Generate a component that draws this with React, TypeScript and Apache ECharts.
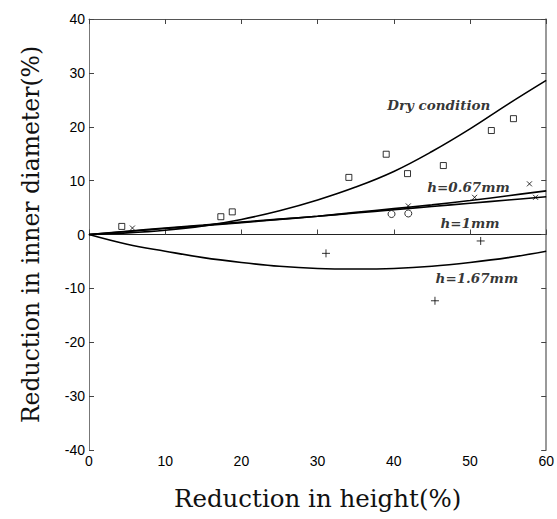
import React, { useEffect, useRef } from "react";
import * as echarts from "echarts";

// Fitted curves (x: reduction in height %, y: reduction in inner diameter %)
const curveX = [0, 5, 10, 15, 20, 25, 30, 35, 40, 45, 50, 55, 60];
const dryCurve = [0, 0.3, 0.8, 1.6, 2.8, 4.4, 6.4, 8.8, 11.7, 15.4, 19.6, 24.2, 28.6];
const h067Curve = [0, 0.55, 1.1, 1.65, 2.2, 2.8, 3.4, 4.1, 4.8, 5.5, 6.3, 7.2, 8.1];
const h1Curve = [0, 0.6, 1.2, 1.75, 2.3, 2.85, 3.4, 4.0, 4.6, 5.2, 5.8, 6.4, 7.0];
const h167Curve = [0, -1.8, -3.1, -4.3, -5.2, -5.9, -6.3, -6.4, -6.3, -5.9, -5.2, -4.3, -3.1];

// Experimental points
const dryPoints: [number, number][] = [
  [4.3, 1.5], [17.3, 3.3], [18.8, 4.2], [34.1, 10.6], [39.0, 14.9],
  [41.8, 11.3], [46.5, 12.8], [52.8, 19.3], [55.7, 21.5],
];
const h067Points: [number, number][] = [
  [5.7, 1.2], [41.9, 5.3], [50.6, 6.9], [57.8, 9.4], [58.6, 6.9],
];
const h1Points: [number, number][] = [
  [39.7, 3.8], [41.9, 3.9],
];
const h167Points: [number, number][] = [
  [31.1, -3.5], [51.4, -1.2], [45.4, -12.3],
];

const curveLabels = ["Dry condition", "h=0.67mm", "h=1mm", "h=1.67mm"];
const labelPos: [number, number][] = [
  [45.9, 24.1], [49.8, 8.8], [50.0, 2.2], [50.9, -8.0],
];

const xTitle = "Reduction in height(%)";
const yTitle = "Reduction in inner diameter(%)";

const crossPath = "path://M0,0L10,10M10,0L0,10";
const plusPath = "path://M5,0L5,10M0,5L10,5";

const SERIF = "'DejaVu Serif', serif";
const SANS = "'Liberation Sans', Arial, sans-serif";
const LABEL_FONT = "'DejaVu Serif', serif";

export default function App() {
  const ref = useRef<HTMLDivElement>(null);
  useEffect(() => {
    if (!ref.current) return;
    const chart = echarts.init(ref.current, undefined, { renderer: "svg" });
    const pair = (ys: number[]) => curveX.map((x, i) => [x, ys[i]]);
    const lineSeries = (name: string, ys: number[]) => ({
      name,
      type: "line",
      data: pair(ys),
      smooth: 0.4,
      showSymbol: false,
      lineStyle: { color: "#000", width: 1.6 },
      z: 2,
    });
    const scatterSeries = (name: string, data: [number, number][], symbol: string, size: number) => ({
      name,
      type: "scatter",
      data,
      symbol,
      symbolSize: size,
      itemStyle: { color: "#fff", borderColor: "#000", borderWidth: 1 },
      z: 3,
    });
    const axisCommon = {
      min: 0,
      max: 60,
      interval: 10,
    };
    chart.setOption({
      animation: false,
      backgroundColor: "#fff",
      grid: { left: 89, top: 19, right: 9, bottom: 69 },
      xAxis: [
        {
          type: "value",
          ...axisCommon,
          position: "bottom",
          name: xTitle,
          nameLocation: "middle",
          nameGap: 36,
          nameTextStyle: { fontFamily: SERIF, fontSize: 24.5, color: "#111" },
          axisLine: { show: true, lineStyle: { color: "#222", width: 1 } },
          axisTick: { inside: true, length: 5, lineStyle: { color: "#444" } },
          axisLabel: { fontFamily: SANS, fontSize: 14, color: "#000", margin: 4 },
          splitLine: { show: false },
        },
        {
          type: "value",
          ...axisCommon,
          position: "top",
          axisLine: { show: true, onZero: false, lineStyle: { color: "#555", width: 1 } },
          axisTick: { inside: true, length: 5, lineStyle: { color: "#444" } },
          axisLabel: { show: false },
          splitLine: { show: false },
        },
      ],
      yAxis: [
        {
          type: "value",
          min: -40,
          max: 40,
          interval: 10,
          position: "left",
          name: yTitle,
          nameLocation: "middle",
          nameGap: 46,
          nameTextStyle: { fontFamily: SERIF, fontSize: 23.5, color: "#111" },
          axisLine: { show: true, onZero: false, lineStyle: { color: "#777", width: 1 } },
          axisTick: { inside: true, length: 5, lineStyle: { color: "#444" } },
          axisLabel: { fontFamily: SANS, fontSize: 14, color: "#000", margin: 4 },
          splitLine: { show: false },
        },
        {
          type: "value",
          min: -40,
          max: 40,
          interval: 10,
          position: "right",
          axisLine: { show: true, onZero: false, lineStyle: { color: "#777", width: 1.5 } },
          axisTick: { inside: true, length: 5, lineStyle: { color: "#444" } },
          axisLabel: { show: false },
          splitLine: { show: false },
        },
      ],
      series: [
        lineSeries("Dry", dryCurve),
        lineSeries("h067", h067Curve),
        lineSeries("h1", h1Curve),
        lineSeries("h167", h167Curve),
        scatterSeries("Dry pts", dryPoints, "rect", 6),
        scatterSeries("h067 pts", h067Points, crossPath, 5),
        scatterSeries("h1 pts", h1Points, "circle", 7),
        scatterSeries("h167 pts", h167Points, plusPath, 8),
        {
          name: "labels",
          type: "scatter",
          symbolSize: 0,
          data: labelPos.map((p, i) => ({ value: p, name: curveLabels[i] })),
          label: {
            show: true,
            position: "inside",
            formatter: (p: any) => p.name,
            fontFamily: LABEL_FONT,
            fontStyle: "italic",
            fontWeight: "bold",
            fontSize: 13.5,
            color: "#000",
          },
          z: 4,
        },
      ],
    });
    return () => chart.dispose();
  }, []);
  return (
    <div
      ref={ref}
      style={{ position: "fixed", left: 0, top: 0, width: 557, height: 519, background: "#fff" }}
    />
  );
}
